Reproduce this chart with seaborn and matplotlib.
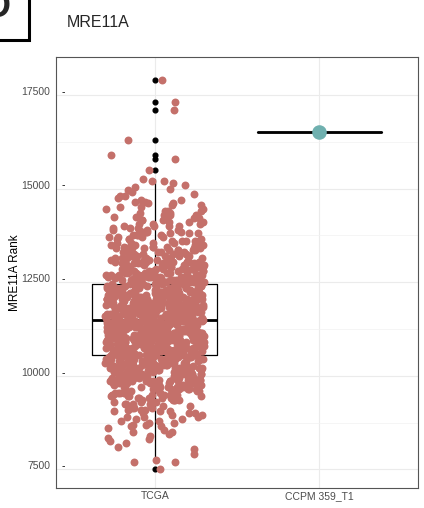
import numpy as np
import pandas as pd
import seaborn as sns
import matplotlib.pyplot as plt
from matplotlib.patches import Rectangle
from matplotlib.transforms import blended_transform_factory

# Données (rang MRE11A)
groups = ["TCGA", "CCPM 359_T1"]

# TCGA : rangs regroupés par pas de 50 (7500 -> 15250), effectif estimé par pas
tcga_rank_bins = list(range(7500, 15300, 50))
tcga_bin_counts = [
    1, 0, 0, 0, 2, 1, 0, 0, 1, 0,            # 7500 - 7950
    0, 1, 1, 0, 1, 1, 1, 1, 1, 1,            # 8000 - 8450
    2, 1, 1, 2, 2, 2, 2, 2, 3, 2,            # 8500 - 8950
    3, 3, 3, 3, 4, 4, 4, 5, 5, 5,            # 9000 - 9450
    6, 6, 6, 7, 7, 7, 8, 8, 8, 9,            # 9500 - 9950
    9, 10, 10, 10, 11, 11, 11, 12, 12, 12,   # 10000 - 10450
    12, 13, 13, 13, 13, 13, 14, 14, 14, 15,  # 10500 - 10950
    15, 15, 15, 15, 15, 16, 16, 15, 15, 16,  # 11000 - 11450
    16, 15, 15, 16, 15, 15, 15, 15, 15, 14,  # 11500 - 11950
    14, 14, 13, 13, 13, 12, 12, 12, 12, 11,  # 12000 - 12450
    11, 11, 10, 10, 10, 9, 9, 9, 9, 8,       # 12500 - 12950
    8, 8, 7, 7, 7, 6, 6, 6, 6, 5,            # 13000 - 13450
    5, 5, 5, 4, 4, 4, 4, 4, 4, 3,            # 13500 - 13950
    4, 3, 3, 3, 3, 3, 3, 2, 3, 2,            # 14000 - 14450
    2, 2, 2, 2, 2, 1, 2, 1, 1, 1,            # 14500 - 14950
    1, 1, 1, 1, 2, 1,                        # 15000 - 15250
]
# valeurs isolées en haut (points noirs)
tcga_high_ranks = [15500, 15800, 15900, 16300, 17100, 17300, 17900]

ccpm_rank = [16500]

yticks = [7500, 10000, 12500, 15000, 17500]
yminor = [8750, 11250, 13750, 16250]

salmon = "#C4706A"
teal = "#6FB0AF"

tcga_ranks = np.concatenate([np.repeat(tcga_rank_bins, tcga_bin_counts), tcga_high_ranks])
df_tcga = pd.DataFrame({"group": "TCGA", "rank": tcga_ranks})
df_ccpm = pd.DataFrame({"group": "CCPM 359_T1", "rank": ccpm_rank})
df = pd.concat([df_tcga, df_ccpm], ignore_index=True)

sns.set_theme(style="white")
plt.rcParams["font.family"] = ["Liberation Sans", "DejaVu Sans"]
np.random.seed(3)

fig = plt.figure(figsize=(4.24, 5.08), dpi=100)
ax = fig.add_axes([0.132, 0.039, 0.854, 0.848])

sns.boxplot(data=df, x="group", y="rank", order=groups, width=0.76, fill=False,
            color="black", linewidth=0.9, showcaps=False, whis=1.5, fliersize=3.4,
            flierprops=dict(marker="o", markerfacecolor="black", markeredgecolor="black"),
            medianprops=dict(linewidth=2.0), ax=ax)
sns.stripplot(data=df_tcga, x="group", y="rank", order=groups, color=salmon, size=5.7,
              jitter=0.3, linewidth=0, zorder=3, ax=ax)
sns.stripplot(data=df_ccpm, x="group", y="rank", order=groups, color=teal, size=10.5,
              jitter=False, linewidth=0, zorder=3, ax=ax)

ax.set_xlim(-0.6, 1.6)
ax.set_ylim(7000, 18500)
ax.set_yticks(yticks)
ax.set_yticks(yminor, minor=True)
ax.set_axisbelow(True)
ax.grid(which="major", color="#EBEBEB", linewidth=0.8)
ax.grid(which="minor", axis="y", color="#F2F2F2", linewidth=0.5)
ax.tick_params(axis="both", which="both", length=0, labelsize=7.5, labelcolor="#4D4D4D")
ax.tick_params(axis="y", pad=4)
ax.tick_params(axis="x", pad=2)
plt.setp(ax.get_yticklabels(), va="baseline")

# petits tirets à côté des graduations
trans = blended_transform_factory(ax.transAxes, ax.transData)
for t in yticks:
    ax.text(0.016, t, "-", transform=trans, fontsize=7.5, va="baseline", ha="left", color="black")

for s in ax.spines.values():
    s.set_visible(True)
    s.set_color("#555555")
    s.set_linewidth(0.8)

ax.set_xlabel("")
ax.set_ylabel("MRE11A Rank", fontsize=8.5, color="black", labelpad=0)

fig.text(0.158, 0.9474, "MRE11A", fontsize=11.5, va="baseline", ha="left")

# étiquette de panneau (coupée dans l'original)
fig.text(0.0248, 0.9665, "D", fontsize=26, fontweight="bold", ha="right", va="baseline")
fig.patches.append(Rectangle((-0.05, 0.9203), 0.05 + 0.0684, 0.2, transform=fig.transFigure,
                             fill=False, edgecolor="black", linewidth=2.2))

fig.savefig("out.png", dpi=100)
